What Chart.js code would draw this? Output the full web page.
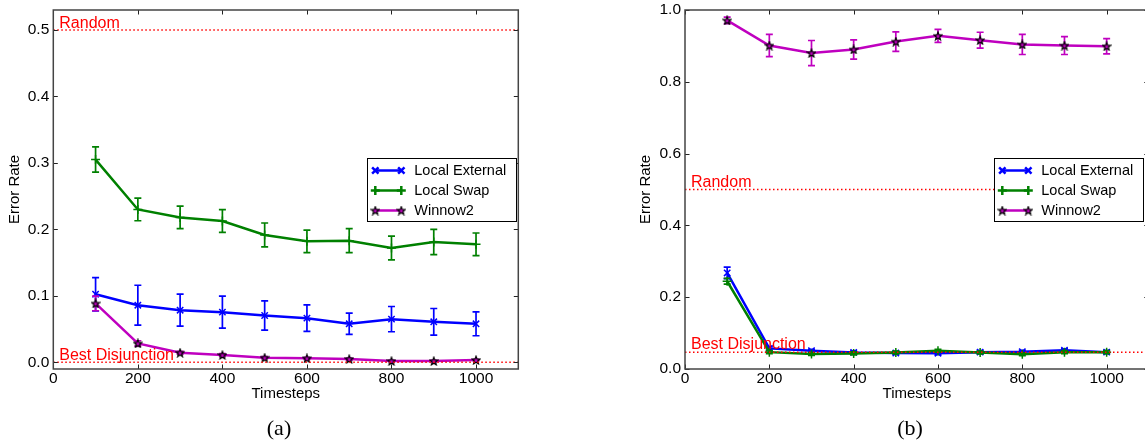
<!DOCTYPE html>
<html><head><meta charset="utf-8">
<script src="https://cdn.jsdelivr.net/npm/chart.js@4/dist/chart.umd.min.js"></script>
<style>
html,body{margin:0;padding:0;background:#fff;overflow:hidden;width:1145px;height:440px;}
canvas{position:absolute;top:0;}
.cap{position:absolute;font-family:"Liberation Serif","Times New Roman",serif;font-size:22px;line-height:22px;transform:translateX(-50%);color:#000;white-space:nowrap;}
</style></head><body>
<canvas id="cA" width="560" height="440" style="left:0px;width:560px;height:440px"></canvas>
<canvas id="cB" width="560" height="440" style="left:620px;width:560px;height:440px"></canvas>
<div class="cap" style="left:279px;top:417px">(a)</div>
<div class="cap" style="left:910px;top:417px">(b)</div>
<script>
// ---- data ----
const timesteps = [100, 200, 300, 400, 500, 600, 700, 800, 900, 1000];
const xTicks = [0, 200, 400, 600, 800, 1000];
const xTickLabels = ['0', '200', '400', '600', '800', '1000'];
const xRange = [0, 1100];

const yRangeA = [-0.01, 0.53];
const yTicksA = [0, 0.1, 0.2, 0.3, 0.4, 0.5];
const yTickLabelsA = ['0.0', '0.1', '0.2', '0.3', '0.4', '0.5'];
const yRangeB = [0, 1.0];
const yTicksB = [0, 0.2, 0.4, 0.6, 0.8, 1.0];
const yTickLabelsB = ['0.0', '0.2', '0.4', '0.6', '0.8', '1.0'];

const seriesNames = ['Local External', 'Local Swap', 'Winnow2'];
const refNames = ['Random', 'Best Disjunction'];

// panel (a)
const extA     = [0.1025, 0.086, 0.0785, 0.0755, 0.0705, 0.0665, 0.058, 0.065, 0.061, 0.058];
const extErrA  = [0.025, 0.030, 0.024, 0.024, 0.022, 0.020, 0.016, 0.019, 0.020, 0.018];
const swapA    = [0.305, 0.230, 0.218, 0.2126, 0.1916, 0.182, 0.183, 0.172, 0.181, 0.1776];
const swapErrA = [0.019, 0.017, 0.017, 0.017, 0.018, 0.017, 0.018, 0.018, 0.019, 0.017];
const winA     = [0.0886, 0.0285, 0.0145, 0.011, 0.007, 0.006, 0.005, 0.002, 0.002, 0.0035];
const winErrA  = [0.011, 0.004, 0.002, 0.002, 0.0015, 0.0015, 0.0015, 0.001, 0.001, 0.001];
const refLevelsA = [0.5, 0.0];

// panel (b)
const extB     = [0.2676, 0.0574, 0.051, 0.0463, 0.0444, 0.044, 0.047, 0.048, 0.052, 0.047];
const extErrB  = [0.016, 0.005, 0.004, 0.004, 0.004, 0.004, 0.004, 0.004, 0.004, 0.004];
const swapB    = [0.2444, 0.047, 0.0417, 0.0435, 0.046, 0.0506, 0.046, 0.041, 0.047, 0.047];
const swapErrB = [0.008, 0.004, 0.004, 0.004, 0.004, 0.004, 0.004, 0.004, 0.004, 0.004];
const winB     = [0.971, 0.901, 0.880, 0.890, 0.912, 0.928, 0.916, 0.904, 0.901, 0.899];
const winErrB  = [0.009, 0.031, 0.035, 0.027, 0.027, 0.018, 0.022, 0.028, 0.025, 0.021];
const refLevelsB = [0.5, 0.047];

// ---- styles ----
Chart.defaults.font.family = '"Liberation Sans", Arial, sans-serif';
Chart.defaults.color = '#000';

function makeStar() {
  const c = document.createElement('canvas');
  c.width = 10; c.height = 10;
  const g = c.getContext('2d');
  g.beginPath();
  for (let i = 0; i < 10; i++) {
    const r = i % 2 === 0 ? 4.2 : 1.8;
    const a = -Math.PI / 2 + i * Math.PI / 5;
    const px = 5 + r * Math.cos(a), py = 5.4 + r * Math.sin(a);
    if (i === 0) g.moveTo(px, py); else g.lineTo(px, py);
  }
  g.closePath();
  g.fillStyle = '#bf00bf'; g.fill();
  g.strokeStyle = '#000'; g.lineWidth = 1.2; g.stroke();
  return c;
}
const starImg = makeStar();

const seriesStyles = [
  {color: '#0000ff', point: 'crossRot', r: 4.5, order: 3},
  {color: '#008000', point: 'cross', r: 4.5, order: 2},
  {color: '#bf00bf', point: starImg, r: 4, order: 1}
];

const errorBars = {
  id: 'errorBars',
  beforeDatasetDraw(chart, args) {
    const ds = chart.data.datasets[args.index];
    if (!ds.errors) return;
    const ctx = chart.ctx, xs = chart.scales.x, ys = chart.scales.y;
    ctx.save();
    ctx.strokeStyle = ds.borderColor;
    ctx.lineWidth = 1.7;
    ds.data.forEach((p, i) => {
      const e = ds.errors[i];
      const px = xs.getPixelForValue(p.x);
      const t = ys.getPixelForValue(p.y + e), b = ys.getPixelForValue(p.y - e);
      ctx.beginPath();
      ctx.moveTo(px, t); ctx.lineTo(px, b);
      ctx.moveTo(px - 3.5, t); ctx.lineTo(px + 3.5, t);
      ctx.moveTo(px - 3.5, b); ctx.lineTo(px + 3.5, b);
      ctx.stroke();
    });
    ctx.restore();
  }
};

const decor = {
  id: 'decor',
  afterDatasetsDraw(chart, args, opts) {
    const ctx = chart.ctx, a = chart.chartArea, xs = chart.scales.x, ys = chart.scales.y;
    ctx.save();
    // reference labels
    ctx.fillStyle = '#ff0000';
    ctx.font = '16px "Liberation Sans", Arial, sans-serif';
    ctx.textBaseline = 'alphabetic';
    ctx.textAlign = 'left';
    chart.data.datasets.forEach(ds => {
      if (!ds.refName) return;
      ctx.fillText(ds.refName, a.left + 6, ys.getPixelForValue(ds.data[0].y) - opts.refLift);
    });
    // inward ticks
    ctx.strokeStyle = '#222';
    ctx.lineWidth = 1;
    const L = 4.5;
    ctx.beginPath();
    xs.ticks.forEach(t => {
      const px = Math.round(xs.getPixelForValue(t.value)) + 0.5;
      ctx.moveTo(px, a.bottom); ctx.lineTo(px, a.bottom - L);
      ctx.moveTo(px, a.top); ctx.lineTo(px, a.top + L);
    });
    ys.ticks.forEach(t => {
      const py = Math.round(ys.getPixelForValue(t.value)) + 0.5;
      ctx.moveTo(a.left, py); ctx.lineTo(a.left + L, py);
      ctx.moveTo(a.right, py); ctx.lineTo(a.right - L, py);
    });
    ctx.stroke();
    // frame
    ctx.strokeStyle = '#444';
    ctx.lineWidth = 1.5;
    ctx.strokeRect(a.left, a.top, a.right - a.left, a.bottom - a.top);
    // legend
    const w = opts.width, h = opts.height;
    const bx = a.right - opts.right - w;
    const by = (a.top + a.bottom) / 2 - h / 2;
    ctx.fillStyle = '#fff';
    ctx.fillRect(bx, by, w, h);
    ctx.strokeStyle = '#000';
    ctx.lineWidth = 1;
    ctx.strokeRect(Math.round(bx) + 0.5, Math.round(by) + 0.5, w, h);
    ctx.font = '14.5px "Liberation Sans", Arial, sans-serif';
    ctx.textBaseline = 'middle';
    chart.data.datasets.forEach((ds, k) => {
      if (ds.refName) return;
      const ry = by + 12.5 + k * 20;
      const x0 = bx + 8, x1 = bx + 34;
      ctx.strokeStyle = ds.borderColor;
      ctx.lineWidth = 2.5;
      ctx.beginPath(); ctx.moveTo(x0, ry); ctx.lineTo(x1, ry); ctx.stroke();
      ctx.fillStyle = ds.borderColor; ctx.strokeStyle = ds.borderColor;
      [x0, x1].forEach(mx => Chart.helpers.drawPoint(ctx, {pointStyle: ds.pointStyle, radius: ds.pointRadius, borderWidth: 1.5, rotation: 0}, mx, ry));
      ctx.fillStyle = '#000';
      ctx.fillText(ds.label, bx + 47, ry + 0.5);
    });
    ctx.restore();
  }
};

function build(id, vals, errs, yRange, yTicks, yLabels, refLevels, lay) {
  const datasets = vals.map((v, k) => ({
    label: seriesNames[k],
    data: timesteps.map((t, i) => ({x: t, y: v[i]})),
    errors: errs[k],
    borderColor: seriesStyles[k].color,
    backgroundColor: seriesStyles[k].color,
    borderWidth: 2.5,
    pointStyle: seriesStyles[k].point,
    pointRadius: seriesStyles[k].r,
    pointBorderWidth: 1.5,
    pointBorderColor: seriesStyles[k].color,
    pointBackgroundColor: seriesStyles[k].color,
    order: seriesStyles[k].order,
    tension: 0
  }));
  refLevels.forEach((lv, k) => datasets.push({
    label: refNames[k],
    refName: refNames[k],
    data: xRange.map(x => ({x: x, y: lv})),
    borderColor: '#ff0000',
    borderWidth: 1.5,
    borderDash: [1.5, 2.5],
    pointRadius: 0,
    order: 0
  }));
  return new Chart(document.getElementById(id), {
    type: 'line',
    data: {datasets},
    plugins: [errorBars, decor],
    options: {
      responsive: false,
      animation: false,
      events: [],
      layout: {padding: {left: 0, right: lay.padRight, top: 10, bottom: 37}},
      plugins: {
        legend: {display: false},
        tooltip: {enabled: false},
        decor: {right: lay.legRight, width: 149, height: 63, refLift: lay.refLift}
      },
      scales: {
        x: {
          type: 'linear', min: xRange[0], max: xRange[1],
          grid: {display: false, drawTicks: false, tickLength: 0},
          border: {display: false},
          afterBuildTicks: s => { s.ticks = xTicks.map(v => ({value: v})); },
          afterFit: s => { s.height = 34; s.paddingLeft = 0; s.paddingRight = 0; },
          ticks: {font: {size: 15.5}, padding: 0, maxRotation: 0, autoSkip: false,
                  callback: (v, i) => xTickLabels[i]},
          title: {display: true, text: 'Timesteps', font: {size: 15}, padding: {top: 0, bottom: 0}}
        },
        y: {
          type: 'linear', min: yRange[0], max: yRange[1],
          grid: {display: false, drawTicks: false, tickLength: 0},
          border: {display: false},
          afterBuildTicks: s => { s.ticks = yTicks.map(v => ({value: v})); },
          afterFit: s => { s.width = lay.yWidth; s.paddingTop = 0; s.paddingBottom = 0; },
          ticks: {font: {size: 15.5}, padding: 4, autoSkip: false,
                  callback: (v, i) => yLabels[i]},
          title: {display: true, text: 'Error Rate', font: {size: 15}, padding: {top: lay.yTitlePad, bottom: 0}}
        }
      }
    }
  });
}

build('cA', [extA, swapA, winA], [extErrA, swapErrA, winErrA], yRangeA, yTicksA, yTickLabelsA, refLevelsA,
      {padRight: 41.7, yWidth: 53.3, yTitlePad: 6, refLift: 2, legRight: 2});
build('cB', [extB, swapB, winB], [extErrB, swapErrB, winErrB], yRangeB, yTicksB, yTickLabelsB, refLevelsB,
      {padRight: 31.2, yWidth: 65, yTitlePad: 17, refLift: 3, legRight: 5.5});
</script>
</body></html>
